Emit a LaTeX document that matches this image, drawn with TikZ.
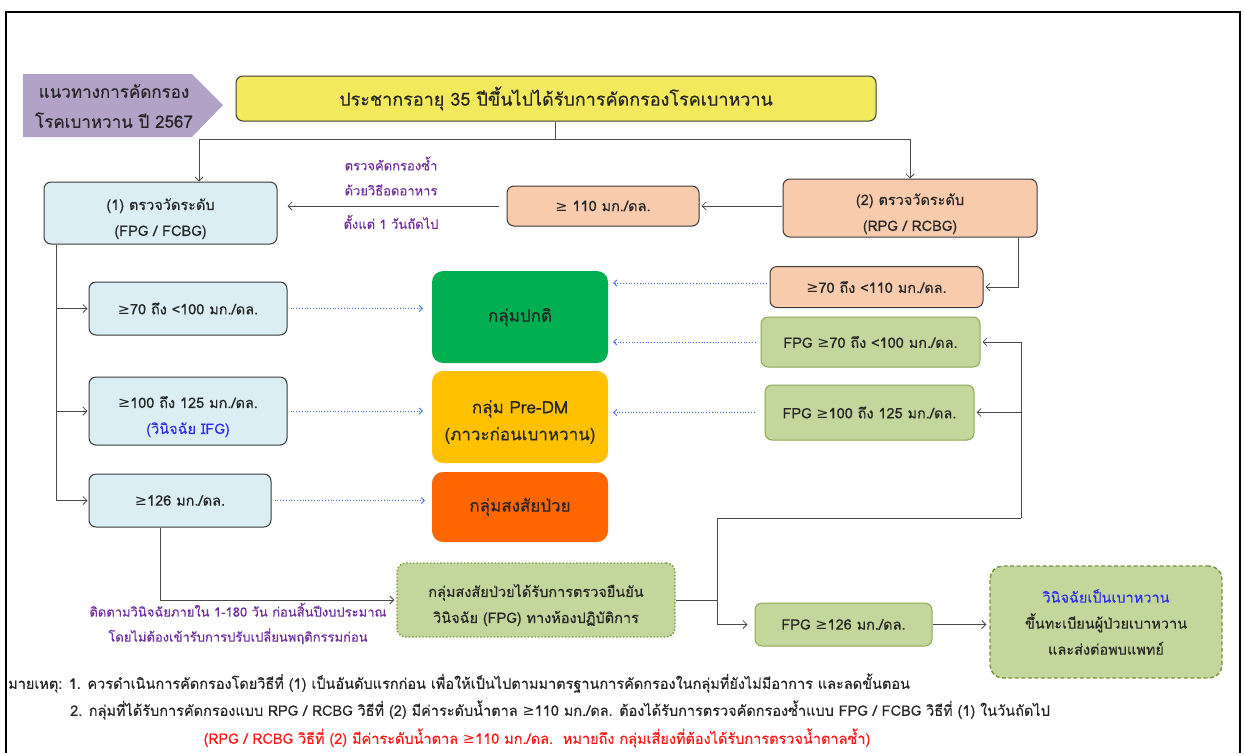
\documentclass[tikz,border=0pt]{standalone}
\usepackage{fontspec}
\setmainfont{Loma}[Script=Thai, FakeBold=0.35]
\newfontfamily\symfont{DejaVu Sans}
\usetikzlibrary{arrows.meta}
\newcommand\gq{{\symfont ≥}}
% taller first line, so that two-line labels sit a little lower in their boxes
\newcommand\firstline{\rule{0pt}{23pt}}

\definecolor{txt}{HTML}{262626}
\definecolor{edge}{HTML}{3A3A3A}
\definecolor{lgray}{HTML}{4A4A4A}
\definecolor{lblue}{HTML}{DAEEF3}
\definecolor{peach}{HTML}{F8CBAD}
\definecolor{lgreen}{HTML}{C3D69B}
\definecolor{olive}{HTML}{8CAA52}
\definecolor{dolive}{HTML}{77933C}
\definecolor{gnormal}{HTML}{00B050}
\definecolor{gpre}{HTML}{FFC000}
\definecolor{gsus}{HTML}{FF6600}
\definecolor{yel}{HTML}{F2EA5C}
\definecolor{lav}{HTML}{B3A2C7}
\definecolor{purp}{HTML}{7030A0}
\definecolor{dblue}{HTML}{3F6FF0}
\definecolor{tblue}{HTML}{2E2EF0}
\definecolor{nred}{HTML}{FF1A1A}

\tikzset{
  base/.style={align=center, inner sep=0pt, text=txt, font=\fontsize{14.5}{26}\selectfont},
  box/.style={base, draw=edge, line width=1pt, rounded corners=7pt},
  bluebox/.style={box, fill=lblue},
  peachbox/.style={box, fill=peach},
  greenbox/.style={base, draw=olive, line width=1pt, fill=lgreen, rounded corners=7pt},
  groupbox/.style={base, rounded corners=11pt, font=\fontsize{17}{27}\selectfont},
  conn/.style={draw=lgray, line width=0.8pt, -{Straight Barb[length=4pt,width=8pt]}},
  plain/.style={draw=lgray, line width=0.8pt},
  dots/.style={draw=dblue, dotted, line width=0.8pt, -{Straight Barb[length=3pt,width=6pt]}},
  hint/.style={text=purp, font=\fontsize{13}{25}\selectfont, align=center, inner sep=0pt},
  remark/.style={text=txt, font=\fontsize{14.5}{16}\selectfont, inner sep=0pt, anchor=west}
}

\begin{document}
\begin{tikzpicture}[x=1pt,y=-1pt]
\useasboundingbox (0,0) rectangle (1244,753);
\fill[white] (0,0) rectangle (1244,753);

% outer frame
\draw[line width=1.6pt] (6,753) -- (6,12) -- (1240,12) -- (1240,753);

% heading tag
\fill[lav] (23,74) -- (192,74) -- (223,105) -- (192,137) -- (23,137) -- cycle;
\node[base, font=\fontsize{17}{30}\selectfont] (title) at (114,106) {แนวทางการคัดกรอง\\โรคเบาหวาน ปี 2567};

% population box
\node[box, fill=yel, minimum width=640pt, minimum height=45pt, font=\fontsize{18}{20}\selectfont] (top) at (556,98.5) {ประชากรอายุ 35 ปีขึ้นไปได้รับการคัดกรองโรคเบาหวาน};

% two screening methods
\node[bluebox, minimum width=233pt, minimum height=62pt] (m1) at (160.5,213) {\firstline(1) ตรวจวัดระดับ\\(FPG / FCBG)};
\node[peachbox, minimum width=254pt, minimum height=58pt] (m2) at (910,208) {\firstline(2) ตรวจวัดระดับ\\(RPG / RCBG)};
\node[peachbox, minimum width=192pt, minimum height=40pt] (r110) at (603,206) {\gq{} 110 มก./ดล.};

\node[hint] (re1) at (391,176) {ตรวจคัดกรองซ้ำ\\ด้วยวิธีอดอาหาร};
\node[hint] (re2) at (391,222) {ตั้งแต่ 1 วันถัดไป};

% results of method (1)
\node[bluebox, minimum width=198pt, minimum height=53pt] (l1) at (188,308.5) {\gq70 ถึง <100 มก./ดล.};
\node[bluebox, minimum width=198pt, minimum height=68pt] (l2) at (188,411) {\firstline\gq100 ถึง 125 มก./ดล.\\\textcolor{tblue}{(วินิจฉัย IFG)}};
\node[bluebox, minimum width=182pt, minimum height=53pt] (l3) at (180,500.5) {\gq126 มก./ดล.};

% groups
\node[groupbox, fill=gnormal, minimum width=176pt, minimum height=92pt] (gn) at (520,317) {กลุ่มปกติ};
\node[groupbox, fill=gpre, minimum width=176pt, minimum height=92pt] (gp) at (520,417) {\firstline กลุ่ม Pre-DM\\(ภาวะก่อนเบาหวาน)};
\node[groupbox, fill=gsus, minimum width=176pt, minimum height=70pt] (gs) at (520,507) {กลุ่มสงสัยป่วย};

% results of method (2) and confirmation
\node[peachbox, minimum width=213pt, minimum height=41pt] (r70) at (876.5,287) {\gq70 ถึง <110 มก./ดล.};
\node[greenbox, minimum width=219pt, minimum height=50pt] (f70) at (870.5,342) {FPG \gq70 ถึง <100 มก./ดล.};
\node[greenbox, minimum width=209pt, minimum height=55pt] (f100) at (869.5,412.5) {FPG \gq100 ถึง 125 มก./ดล.};

\node[base, draw=dolive, dotted, line width=1.4pt, fill=lgreen, rounded corners=9pt, minimum width=278pt, minimum height=74pt] (conf) at (536,600) {\firstline กลุ่มสงสัยป่วยได้รับการตรวจยืนยัน\\วินิจฉัย (FPG) ทางห้องปฏิบัติการ};
\node[hint] (follow) at (238,623.5) {ติดตามวินิจฉัยภายใน 1-180 วัน ก่อนสิ้นปีงบประมาณ\\โดยไม่ต้องเข้ารับการปรับเปลี่ยนพฤติกรรมก่อน};

\node[greenbox, minimum width=177pt, minimum height=43pt] (f126) at (843.5,624.5) {FPG \gq126 มก./ดล.};
\node[base, draw=dolive, dashed, dash pattern=on 4pt off 2.5pt, line width=1.4pt, fill=lgreen, rounded corners=13pt, minimum width=232pt, minimum height=112pt] (dx) at (1106,622) {\textcolor{tblue}{วินิจฉัยเป็นเบาหวาน}\\ขึ้นทะเบียนผู้ป่วยเบาหวาน\\และส่งต่อพบแพทย์};

% connectors from the population box
\coordinate (split) at (555,139);
\draw[plain] (top.south -| split) -- (split);
\draw[conn] (split) -| ([xshift=38.5pt]m1.north);
\draw[conn] (split) -| (m2.north);

\draw[conn, shorten <=1pt, shorten >=2pt] (r110.east -| m2.west) -- (r110.east);
\draw[conn, shorten <=8pt, shorten >=10pt] (r110.west) -- (r110.west -| m1.east);

\draw[conn, shorten >=2pt] ([xshift=108pt]m2.south) |- (r70.east);

% left branch
\coordinate (lbus) at (56,500.5);
\draw[plain] (m1.south west -| lbus) -- (lbus);
\draw[conn, shorten >=1pt] (l1.west -| lbus) -- (l1.west);
\draw[conn, shorten >=1pt] (l2.west -| lbus) -- (l2.west);
\draw[conn, shorten >=1pt] (l3.west -| lbus) -- (l3.west);

\draw[dots, shorten <=3pt, shorten >=9pt] (l1.east) -- (l1.east -| gn.west);
\draw[dots, shorten <=3pt, shorten >=9pt] (l2.east) -- (l2.east -| gp.west);
\draw[dots, shorten <=3pt, shorten >=7pt] (l3.east) -- (l3.east -| gs.west);

\draw[dots, shorten <=3pt, shorten >=5pt] ([yshift=4pt]r70.west) -- ([yshift=4pt]r70.west -| gn.east);
\draw[dots, shorten <=5pt, shorten >=5pt] (f70.west) -- (f70.west -| gn.east);
\draw[dots, shorten <=10pt, shorten >=5pt] (f100.west) -- (f100.west -| gp.east);

% confirmation branch
\coordinate (jx) at (717,600);
\coordinate (rb) at (1021,518);
\draw[conn, shorten >=2pt] ([xshift=-20pt]l3.south) |- (conf.west);
\draw[plain] (conf.east) -- (jx);
\draw[plain] (jx) |- (rb);
\draw[conn, shorten >=2pt] (rb) |- (f70.east);
\draw[conn, shorten >=2pt] (rb) |- (f100.east);
\draw[conn, shorten >=7pt] (jx) |- (f126.west);
\draw[conn, shorten >=3pt] (f126.east) -- (f126.east -| dx.west);

% remarks
\node[remark] (n1) at (8,683) {มายเหตุ: 1. ควรดำเนินการคัดกรองโดยวิธีที่ (1) เป็นอันดับแรกก่อน เพื่อให้เป็นไปตามมาตรฐานการคัดกรองในกลุ่มที่ยังไม่มีอาการ และลดขั้นตอน};
\node[remark] (n2) at (70,710) {2. กลุ่มที่ได้รับการคัดกรองแบบ RPG / RCBG วิธีที่ (2) มีค่าระดับน้ำตาล \gq110 มก./ดล. ต้องได้รับการตรวจคัดกรองซ้ำแบบ FPG / FCBG วิธีที่ (1) ในวันถัดไป};
\node[remark, text=nred, anchor=center] (n3) at (537,738) {(RPG / RCBG วิธีที่ (2) มีค่าระดับน้ำตาล \gq110 มก./ดล.\ \ หมายถึง กลุ่มเสี่ยงที่ต้องได้รับการตรวจน้ำตาลซ้ำ)};
\end{tikzpicture}
\end{document}
